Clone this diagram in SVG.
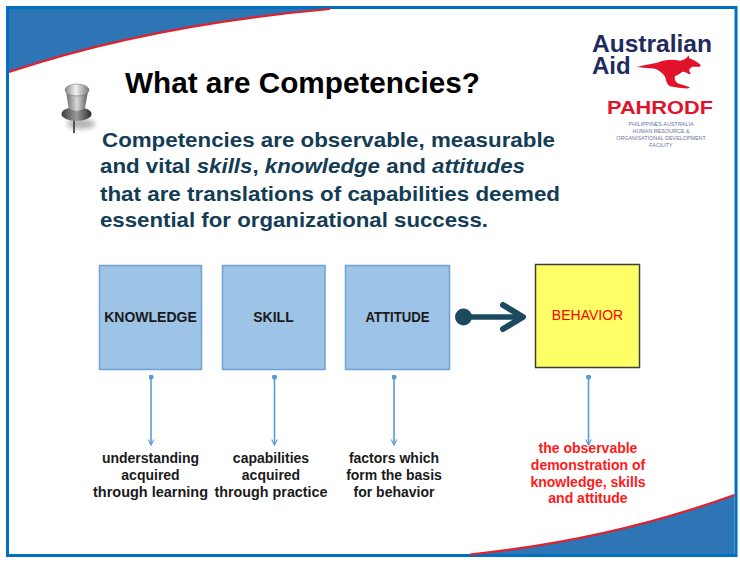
<svg xmlns="http://www.w3.org/2000/svg" width="740" height="563" viewBox="0 0 740 563">
  <style>
    .frame { fill: #ffffff; stroke: #0070C0; stroke-width: 3; }
    .swoosh { fill: #2E75B6; }
    .swoosh-edge { fill: none; stroke: #E3202B; stroke-width: 2.2; }
    .title { font-family: "Liberation Sans", Arial, sans-serif; font-weight: bold; font-size: 29.5px; fill: #000000; }
    .para { font-family: "Liberation Sans", Arial, sans-serif; font-weight: bold; font-size: 21px; fill: #133C55; }
    .box { fill: #9DC3E6; stroke: #6FA3D3; stroke-width: 1.5; }
    .box-b { fill: #FFFF66; stroke: #3F3F3F; stroke-width: 1.5; }
    .blabel { font-family: "Liberation Sans", Arial, sans-serif; font-weight: bold; font-size: 14px; fill: #1A1A1A; text-anchor: middle; }
    .rlabel { font-family: "Liberation Sans", Arial, sans-serif; font-size: 14px; fill: #FF0000; text-anchor: middle; }
    .note { font-family: "Liberation Sans", Arial, sans-serif; font-weight: bold; font-size: 14px; fill: #1A1A1A; text-anchor: middle; }
    .note-red { font-family: "Liberation Sans", Arial, sans-serif; font-weight: bold; font-size: 14px; fill: #FF1A1A; text-anchor: middle; }
    .down { fill: none; stroke: #5B9BD5; stroke-width: 1.6; }
    .logo { font-family: "Liberation Sans", Arial, sans-serif; font-weight: bold; }
    .tiny { font-family: "Liberation Sans", Arial, sans-serif; font-size: 5.4px; fill: #6A76A0; text-anchor: middle; }
  </style>
  <defs>
    <marker id="openHead" viewBox="0 0 10 10" refX="9" refY="5" markerWidth="7" markerHeight="7" orient="auto" markerUnits="userSpaceOnUse">
      <path d="M1,1 L9,5 L1,9" fill="none" stroke="#5B9BD5" stroke-width="1.6"/>
    </marker>
    <marker id="dotTail" viewBox="0 0 10 10" refX="5" refY="5" markerWidth="5" markerHeight="5" orient="auto" markerUnits="userSpaceOnUse">
      <circle cx="5" cy="5" r="5" fill="#5B9BD5"/>
    </marker>
    <linearGradient id="pinCap" x1="0" y1="0" x2="1" y2="0">
      <stop offset="0" stop-color="#8a8a8a"/>
      <stop offset="0.45" stop-color="#f2f2f2"/>
      <stop offset="1" stop-color="#7a7a7a"/>
    </linearGradient>
    <linearGradient id="pinShaft" x1="0" y1="0" x2="1" y2="0">
      <stop offset="0" stop-color="#6e6e6e"/>
      <stop offset="0.5" stop-color="#d8d8d8"/>
      <stop offset="1" stop-color="#5a5a5a"/>
    </linearGradient>
    <linearGradient id="pinFlange" x1="0" y1="0" x2="1" y2="0">
      <stop offset="0" stop-color="#3c3c3c"/>
      <stop offset="0.5" stop-color="#9a9a9a"/>
      <stop offset="1" stop-color="#2e2e2e"/>
    </linearGradient>
    <filter id="soft" x="-50%" y="-50%" width="200%" height="200%">
      <feGaussianBlur stdDeviation="2.5"/>
    </filter>
  </defs>

  <!-- slide frame -->
  <rect x="7.5" y="7.5" width="728.5" height="548" class="frame"/>

  <!-- corner swooshes -->
  <path class="swoosh" d="M9,9 L330,9 Q150,25 9,72 Z"/>
  <path class="swoosh-edge" d="M9,72 Q150,25 330,9"/>
  <path class="swoosh" d="M470,554 Q610,540 734.5,495 L734.5,554 Z"/>
  <path class="swoosh-edge" d="M470,554.5 Q610,540 734.5,495"/>

  <!-- push pin -->
  <g id="pushpin">
    <ellipse cx="81" cy="124" rx="14" ry="5" fill="#555" opacity="0.45" filter="url(#soft)"/>
    <line x1="74" y1="118" x2="74" y2="133" stroke="#444" stroke-width="1.8"/>
    <ellipse cx="76.5" cy="114" rx="15" ry="7" fill="url(#pinFlange)"/>
    <path d="M66,91 L68.5,108 Q76.5,114 85,108 L88,91 Z" fill="url(#pinShaft)"/>
    <ellipse cx="77" cy="90" rx="12" ry="6" fill="url(#pinCap)" stroke="#777" stroke-width="0.6"/>
  </g>

  <!-- title and lead text -->
  <text class="title" x="125" y="93" textLength="355" lengthAdjust="spacingAndGlyphs">What are Competencies?</text>
  <g id="lead">
    <text class="para" x="102" y="147" textLength="453" lengthAdjust="spacingAndGlyphs">Competencies are observable, measurable</text>
    <text class="para" x="100" y="173" textLength="425" lengthAdjust="spacingAndGlyphs">and vital <tspan font-style="italic">skills</tspan>, <tspan font-style="italic">knowledge</tspan> and <tspan font-style="italic">attitudes</tspan></text>
    <text class="para" x="100" y="201" textLength="460" lengthAdjust="spacingAndGlyphs">that are translations of capabilities deemed</text>
    <text class="para" x="100" y="227" textLength="388" lengthAdjust="spacingAndGlyphs">essential for organizational success.</text>
  </g>

  <!-- logos -->
  <g id="logo-australian-aid">
    <text class="logo" x="592" y="52" font-size="24" fill="#1F2B5E" textLength="120" lengthAdjust="spacingAndGlyphs">Australian</text>
    <text class="logo" x="592" y="74" font-size="24" fill="#1F2B5E">Aid</text>
    <path fill="#E3122B" transform="matrix(1,0,0,0.9,0,8)" d="M637,65.5 C645,63 652,62 658,60.5 C664,57.5 672,56.5 680,58.5 C683,58 685,57 687,55 L688.5,52.5 L689.5,56 L692,57 C696,59 699,61.5 701,64 L699,65.5 C696,65.5 693,65 691,66 C689,68 688.5,70 691,72.5 L689,73.5 C686.5,72 684.5,70.5 682,71 C680,73 678,74.5 675,75.5 C674,78.5 675,81.5 678,84 C682,85.5 686,86.5 690,88 L688,89.5 C682,89 675,88.5 670,87 C667,85 666,80 665,76 C662,72 659,69 655,67.5 C649,66.5 643,66.5 637,65.5 Z"/>
  </g>
  <g id="logo-pahrodf">
    <text class="logo" x="607" y="114" font-size="19" fill="#E3122B" textLength="106" lengthAdjust="spacingAndGlyphs">PAHRODF</text>
    <text class="tiny" x="661" y="126">PHILIPPINES-AUSTRALIA</text>
    <text class="tiny" x="661" y="133">HUMAN RESOURCE &amp;</text>
    <text class="tiny" x="661" y="140">ORGANISATIONAL DEVELOPMENT</text>
    <text class="tiny" x="661" y="147">FACILITY</text>
  </g>

  <!-- nodes -->
  <g id="knowledge">
    <rect class="box" x="99.5" y="265.5" width="102" height="104"/>
    <text class="blabel" x="150.5" y="322">KNOWLEDGE</text>
  </g>
  <g id="skill">
    <rect class="box" x="222.5" y="265.5" width="102.5" height="104"/>
    <text class="blabel" x="273.5" y="322">SKILL</text>
  </g>
  <g id="attitude">
    <rect class="box" x="345.5" y="265.5" width="104" height="104"/>
    <text class="blabel" x="397.5" y="322" textLength="64" lengthAdjust="spacingAndGlyphs">ATTITUDE</text>
  </g>
  <g id="behavior">
    <rect class="box-b" x="535.5" y="264.5" width="104" height="103"/>
    <text class="rlabel" x="587.5" y="320">BEHAVIOR</text>
  </g>

  <!-- notes under the nodes -->
  <g id="note-knowledge">
    <text class="note" x="150.5" y="463">understanding</text>
    <text class="note" x="150.5" y="480">acquired</text>
    <text class="note" x="150.5" y="497" textLength="115" lengthAdjust="spacingAndGlyphs">through learning</text>
  </g>
  <g id="note-skill">
    <text class="note" x="271" y="463">capabilities</text>
    <text class="note" x="271" y="480">acquired</text>
    <text class="note" x="271" y="497" textLength="113" lengthAdjust="spacingAndGlyphs">through practice</text>
  </g>
  <g id="note-attitude">
    <text class="note" x="394" y="463">factors which</text>
    <text class="note" x="394" y="480">form the basis</text>
    <text class="note" x="394" y="497">for behavior</text>
  </g>
  <g id="note-behavior">
    <text class="note-red" x="588" y="453">the observable</text>
    <text class="note-red" x="588" y="470">demonstration of</text>
    <text class="note-red" x="588" y="487">knowledge, skills</text>
    <text class="note-red" x="588" y="503">and attitude</text>
  </g>

  <!-- connectors -->
  <g id="connectors">
    <g stroke="#1B4A5E" fill="#1B4A5E">
      <circle cx="463.5" cy="317" r="8.5" stroke="none"/>
      <line x1="463.5" y1="317" x2="521" y2="317" stroke-width="5.5"/>
      <path d="M503,305 L523,317 L503,329" fill="none" stroke-width="6" stroke-linecap="round" stroke-linejoin="round"/>
    </g>
    <line class="down" x1="151" y1="377" x2="151" y2="445" marker-start="url(#dotTail)" marker-end="url(#openHead)"/>
    <line class="down" x1="274.5" y1="377" x2="274.5" y2="445" marker-start="url(#dotTail)" marker-end="url(#openHead)"/>
    <line class="down" x1="394" y1="377" x2="394" y2="445" marker-start="url(#dotTail)" marker-end="url(#openHead)"/>
    <line class="down" x1="588.5" y1="377" x2="588.5" y2="445" marker-start="url(#dotTail)" marker-end="url(#openHead)"/>
  </g>
</svg>
